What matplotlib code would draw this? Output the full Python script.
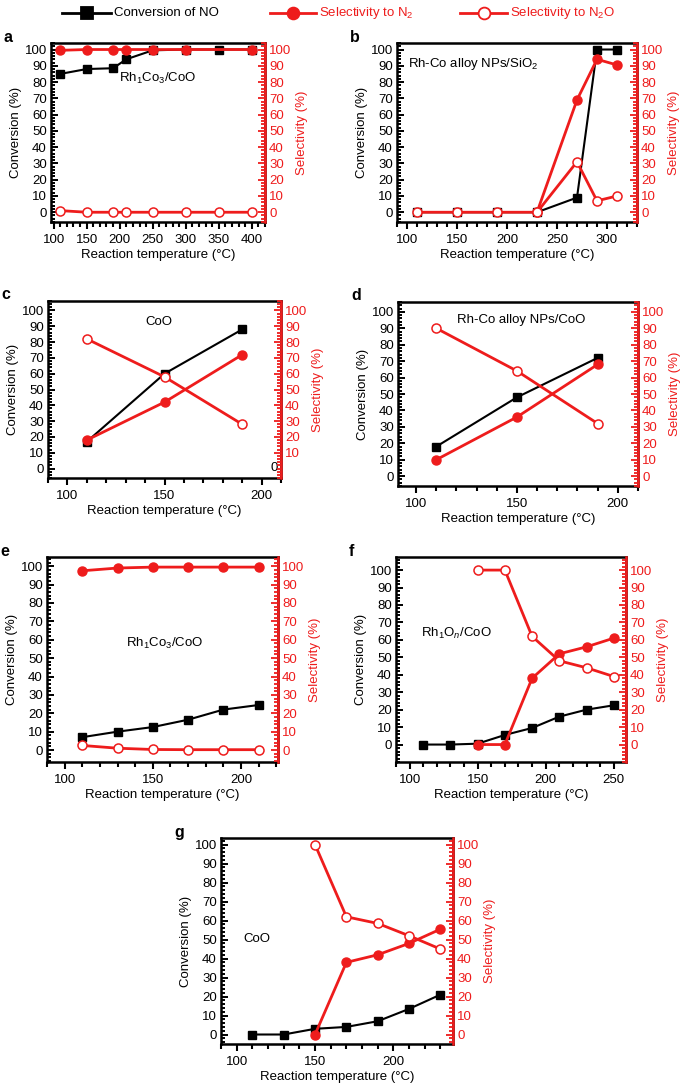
import matplotlib
matplotlib.use("Agg")
import matplotlib.pyplot as plt
from matplotlib.ticker import MultipleLocator
from matplotlib.lines import Line2D

plt.rcParams['font.family'] = ['Liberation Sans', 'DejaVu Sans']
plt.rcParams['mathtext.fontset'] = 'custom'
plt.rcParams['mathtext.rm'] = 'Liberation Sans'
plt.rcParams['mathtext.it'] = 'Liberation Sans:italic'
plt.rcParams['font.size'] = 9

RED = '#ee1c1c'

# --- dane ---
# a
a_conv_T = [110, 150, 190, 210, 250, 300, 350, 400]
a_conv = [85, 88, 88.5, 94, 99.5, 100, 100, 100]
a_n2_T = [110, 150, 190, 210, 250, 300, 400]
a_n2 = [99.5, 100, 100, 100, 100, 100, 100]
a_n2o_T = [110, 150, 190, 210, 250, 300, 350, 400]
a_n2o = [1, 0, 0, 0, 0, 0, 0, 0]
# b
b_conv_T = [110, 150, 190, 230, 270, 290, 310]
b_conv = [0, 0, 0, 0, 9, 100, 100]
b_n2_T = [230, 270, 290, 310]
b_n2 = [0, 69, 94, 90.5]
b_n2o_T = [110, 150, 190, 230, 270, 290, 310]
b_n2o = [0, 0, 0, 0, 31, 7, 10]
# c
c_T = [110, 150, 190]
c_conv = [17, 60, 88]
c_n2 = [18, 42, 72]
c_n2o = [82, 58, 28]
# d
d_T = [110, 150, 190]
d_conv = [18, 48, 72]
d_n2 = [10, 36, 68]
d_n2o = [90, 64, 32]
# e
e_T = [110, 130, 150, 170, 190, 210]
e_conv = [7, 10, 12.5, 16.5, 22, 24.5]
e_n2 = [97.5, 99, 99.5, 99.5, 99.5, 99.5]
e_n2o = [2.5, 1, 0.3, 0.2, 0.2, 0.2]
# f
f_conv_T = [110, 130, 150, 170, 190, 210, 230, 250]
f_conv = [0, 0, 0.5, 5.5, 9.5, 16, 20, 22.5]
f_sel_T = [150, 170, 190, 210, 230, 250]
f_n2 = [0, 0, 38, 52, 56, 61]
f_n2o = [100, 100, 62, 48, 44, 39]
# g
g_conv_T = [110, 130, 150, 170, 190, 210, 230]
g_conv = [0, 0, 3, 4, 7, 13.5, 21]
g_sel_T = [150, 170, 190, 210, 230]
g_n2 = [0, 38, 42, 48, 55.5]
g_n2o = [100, 62, 58.5, 52, 45]

W, H = 685, 1086
fig = plt.figure(figsize=(W / 100, H / 100), dpi=100)


def make_panel(box, letter, xlim, ylim, xmax_tick, right_zero=True):
    l, r, t, b = box
    ax = fig.add_axes([l / W, 1 - b / H, (r - l) / W, (b - t) / H])
    ax2 = ax.twinx()
    ax.set_xlim(*xlim)
    ax.set_ylim(*ylim)
    ax2.set_ylim(*ylim)
    ax.set_xticks(list(range(100, xmax_tick + 1, 50)))
    ax.xaxis.set_minor_locator(MultipleLocator(10))
    ax.set_yticks(list(range(0, 101, 10)))
    ax.yaxis.set_minor_locator(MultipleLocator(2))
    if right_zero:
        ax2.set_yticks(list(range(0, 101, 10)))
    else:
        ax2.set_yticks(list(range(10, 101, 10)))
    ax2.yaxis.set_minor_locator(MultipleLocator(2))
    for s in ax.spines.values():
        s.set_linewidth(1.8)
    ax2.spines['right'].set_color(RED)
    ax2.spines['right'].set_linewidth(1.8)
    for s in ['left', 'top', 'bottom']:
        ax2.spines[s].set_visible(False)
    # dolne ticki na zewnatrz, gorne do srodka (przez os blizniacza)
    ax.tick_params(axis='x', which='both', direction='out', top=False, width=1.5, labelsize=9.5)
    ax.tick_params(axis='x', which='major', length=5)
    ax.tick_params(axis='x', which='minor', length=3.5)
    ax2.tick_params(axis='x', which='both', direction='in', top=True, bottom=False,
                    labeltop=False, labelbottom=False, width=1.5)
    ax2.tick_params(axis='x', which='major', length=5)
    ax2.tick_params(axis='x', which='minor', length=3.5)
    ax.tick_params(axis='y', which='both', direction='in', width=1.4, labelsize=9.5, pad=3)
    ax.tick_params(axis='y', which='major', length=5)
    ax.tick_params(axis='y', which='minor', length=3)
    ax2.tick_params(axis='y', which='both', direction='in', colors=RED, width=1.3,
                    labelsize=9.5, pad=3)
    ax2.tick_params(axis='y', which='major', length=5)
    ax2.tick_params(axis='y', which='minor', length=3)
    ax.set_xlabel('Reaction temperature (°C)', fontsize=9.5, labelpad=2)
    ax.set_ylabel('Conversion (%)', fontsize=9.5, labelpad=2)
    ax2.set_ylabel('Selectivity (%)', color=RED, fontsize=9.5, labelpad=3)
    fig.text((l - 47) / W, 1 - (t - 6) / H, letter, fontsize=11.5, fontweight='bold',
             ha='left', va='center')
    return ax, ax2


def conv_line(ax, x, y):
    ax.plot(x, y, color='black', lw=1.5, marker='s', ms=5.5, zorder=2)


def n2_line(ax, x, y):
    ax.plot(x, y, color=RED, lw=2, marker='o', ms=6.5, zorder=3)


def n2o_line(ax, x, y):
    ax.plot(x, y, color=RED, lw=2, marker='o', ms=6.5, mfc='white', mec=RED, mew=1.1, zorder=3)


# a
ax, ax2 = make_panel((51, 265, 43, 222), 'a', (96, 420), (-6, 104), 400)
conv_line(ax, a_conv_T, a_conv)
n2_line(ax2, a_n2_T, a_n2)
n2o_line(ax2, a_n2o_T, a_n2o)
ax.text(257, 82, r'Rh$_1$Co$_3$/CoO', ha='center', va='center', fontsize=9.5)

# b
ax, ax2 = make_panel((397, 637, 43, 222), 'b', (90, 330), (-6, 104), 300)
conv_line(ax, b_conv_T, b_conv)
n2_line(ax2, b_n2_T, b_n2)
n2o_line(ax2, b_n2o_T, b_n2o)
ax.text(166, 91, r'Rh-Co alloy NPs/SiO$_2$', ha='center', va='center', fontsize=9.5)

# c
ax, ax2 = make_panel((48, 281, 301, 478), 'c', (90, 210), (-6, 106), 200, right_zero=False)
conv_line(ax, c_T, c_conv)
n2_line(ax2, c_T, c_n2)
n2o_line(ax2, c_T, c_n2o)
ax.text(147, 92.5, 'CoO', ha='center', va='center', fontsize=9.5)
ax.text(0.985, 0.055, '0', transform=ax.transAxes, ha='right', va='center', fontsize=9.5)

# d
ax, ax2 = make_panel((398, 638, 302, 486), 'd', (91, 210), (-6, 106), 200)
conv_line(ax, d_T, d_conv)
n2_line(ax2, d_T, d_n2)
n2o_line(ax2, d_T, d_n2o)
ax.text(152, 95, 'Rh-Co alloy NPs/CoO', ha='center', va='center', fontsize=9.5)

# e
ax, ax2 = make_panel((47, 278, 557, 762), 'e', (90, 221), (-6.5, 105), 200)
conv_line(ax, e_T, e_conv)
n2_line(ax2, e_T, e_n2)
n2o_line(ax2, e_T, e_n2o)
ax.text(157, 58, r'Rh$_1$Co$_3$/CoO', ha='center', va='center', fontsize=9.5)

# f
ax, ax2 = make_panel((396, 626, 557, 762), 'f', (90, 259), (-10, 107.5), 250)
conv_line(ax, f_conv_T, f_conv)
n2_line(ax2, f_sel_T, f_n2)
n2o_line(ax2, f_sel_T, f_n2o)
ax.text(134, 63.5, r'Rh$_1$O$_n$/CoO', ha='center', va='center', fontsize=9.5)

# g
ax, ax2 = make_panel((221, 453, 838, 1044), 'g', (90, 238), (-5, 103.5), 200)
conv_line(ax, g_conv_T, g_conv)
n2_line(ax2, g_sel_T, g_n2)
n2o_line(ax2, g_sel_T, g_n2o)
ax.text(113, 50.5, 'CoO', ha='center', va='center', fontsize=9.5)

# legenda u gory - rysowana recznie w pikselach figury
leg_y = 1 - 13 / H
leg_items = [
    (62, 111, 'Conversion of NO', 'black', 's', 'black'),
    (270, 316, r'Selectivity to N$_2$', RED, 'o', RED),
    (460, 507, r'Selectivity to N$_2$O', RED, 'o', 'white'),
]
for x0, x1, txt, col, mk, fc in leg_items:
    fig.add_artist(Line2D([x0 / W, x1 / W], [leg_y, leg_y], transform=fig.transFigure,
                          color=col, lw=2))
    fig.add_artist(Line2D([(x0 + x1) / 2 / W], [leg_y], transform=fig.transFigure,
                          marker=mk, ms=8.5, color=col, mfc=fc, mec=col, mew=1.3))
    fig.text((x1 + 3) / W, leg_y, txt, color=col, fontsize=9.5, ha='left', va='center')

fig.savefig('out.png', dpi=100)
